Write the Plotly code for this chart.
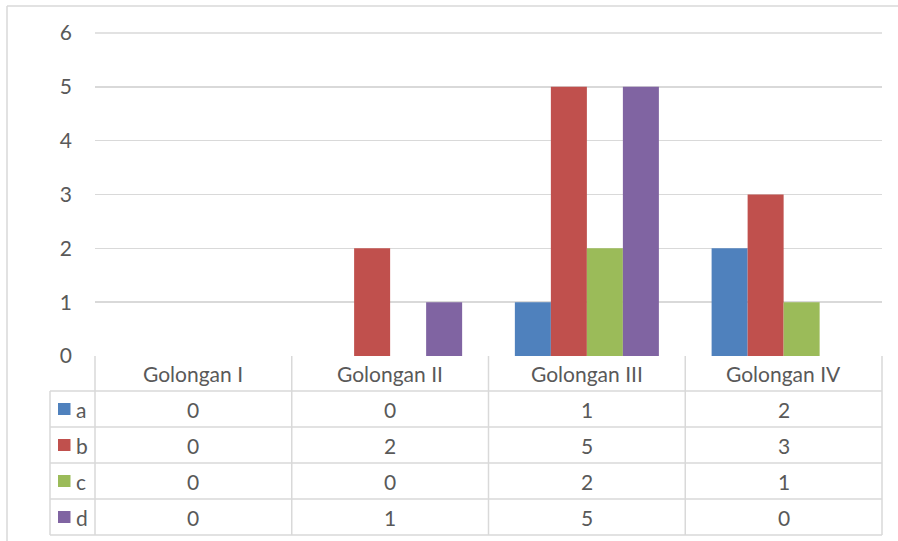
import plotly.graph_objects as go

categories = ["Golongan I", "Golongan II", "Golongan III", "Golongan IV"]
series_names = ["a", "b", "c", "d"]
a_values = [0, 0, 1, 2]
b_values = [0, 2, 5, 3]
c_values = [0, 0, 2, 1]
d_values = [0, 1, 5, 0]
series_values = [a_values, b_values, c_values, d_values]
colors = ["#4F81BD", "#C0504D", "#9BBB59", "#8064A2"]
y_ticks = [0, 1, 2, 3, 4, 5, 6]

W, H = 898, 541
L, R, T, B = 95, 16, 33, 185
PW = W - L - R
PH = H - T - B
FONT = "Lato, Open Sans, sans-serif"
FS = 21
TXT = "#595959"
LINE = "#D9D9D9"


def px_x(px):
    return (px - L) / PW


def px_y(py):
    return (T + PH - py) / PH


fig = go.Figure()
for name, vals, col in zip(series_names, series_values, colors):
    fig.add_trace(go.Bar(x=categories, y=vals, name=name, marker=dict(color=col, line=dict(width=0)),
                         hoverinfo="skip"))

shapes = []
annotations = []

# outer chart border
shapes.append(dict(type="line", xref="paper", yref="paper", x0=px_x(7), x1=px_x(7), y0=px_y(6), y1=px_y(545),
                   line=dict(color=LINE, width=1.5)))
shapes.append(dict(type="line", xref="paper", yref="paper", x0=px_x(7), x1=px_x(900), y0=px_y(6), y1=px_y(6),
                   line=dict(color=LINE, width=1.5)))

# top gridline (at axis max)
shapes.append(dict(type="line", xref="paper", yref="paper", x0=0, x1=1, y0=1, y1=1,
                   line=dict(color=LINE, width=1.5), layer="below"))

# table geometry
n = len(categories)
col_edges = [L + i * PW / n for i in range(n + 1)]
header_top, header_bot = 356, 391
row_h = 36
row_edges = [header_bot + i * row_h for i in range(len(series_names) + 1)]
left_col = 50

for i, xe in enumerate(col_edges):
    shapes.append(dict(type="line", xref="paper", yref="paper", x0=px_x(xe), x1=px_x(xe),
                       y0=px_y(header_top), y1=px_y(row_edges[-1]), line=dict(color=LINE, width=1.5)))
shapes.append(dict(type="line", xref="paper", yref="paper", x0=px_x(left_col), x1=px_x(left_col),
                   y0=px_y(header_bot), y1=px_y(row_edges[-1]), line=dict(color=LINE, width=1.5)))
for ye in row_edges:
    shapes.append(dict(type="line", xref="paper", yref="paper", x0=px_x(left_col), x1=px_x(col_edges[-1]),
                       y0=px_y(ye), y1=px_y(ye), line=dict(color=LINE, width=1.5)))

# header labels
for c in categories:
    annotations.append(dict(x=c, xref="x", y=px_y((header_top + header_bot) / 2), yref="paper",
                            text=c, showarrow=False, font=dict(family=FONT, size=FS, color=TXT),
                            xanchor="center", yanchor="middle"))

# rows
for r, (name, vals, col) in enumerate(zip(series_names, series_values, colors)):
    cy = (row_edges[r] + row_edges[r + 1]) / 2
    shapes.append(dict(type="rect", xref="paper", yref="paper", x0=px_x(58), x1=px_x(70.5),
                       y0=px_y(cy - 6), y1=px_y(cy + 6), fillcolor=col, line=dict(width=0)))
    annotations.append(dict(x=px_x(74), xref="paper", y=px_y(cy), yref="paper", text=name, showarrow=False,
                            font=dict(family=FONT, size=FS, color=TXT), xanchor="left", yanchor="middle"))
    for c, v in zip(categories, vals):
        annotations.append(dict(x=c, xref="x", y=px_y(cy), yref="paper", text=str(v), showarrow=False,
                                font=dict(family=FONT, size=FS, color=TXT), xanchor="center", yanchor="middle"))

fig.update_layout(
    width=W, height=H,
    margin=dict(l=L, r=R, t=T, b=B),
    paper_bgcolor="white", plot_bgcolor="white",
    barmode="group", bargap=0.268, bargroupgap=0,
    showlegend=False,
    hovermode=False,
    font=dict(family=FONT, size=FS, color=TXT),
    xaxis=dict(showticklabels=False, showgrid=False, zeroline=False, showline=False,
               range=[-0.5, n - 0.5], fixedrange=True),
    yaxis=dict(range=[0, 6], tickvals=y_ticks, showgrid=True, gridcolor=LINE, gridwidth=1.5,
               zeroline=False, showline=False, ticklabelstandoff=22, fixedrange=True,
               tickfont=dict(family=FONT, size=FS, color=TXT)),
    shapes=shapes,
    annotations=annotations,
)

fig.write_html("out.html", config={"displayModeBar": False, "staticPlot": True},
               post_script="document.body.style.margin='0';document.body.style.overflow='hidden';")
